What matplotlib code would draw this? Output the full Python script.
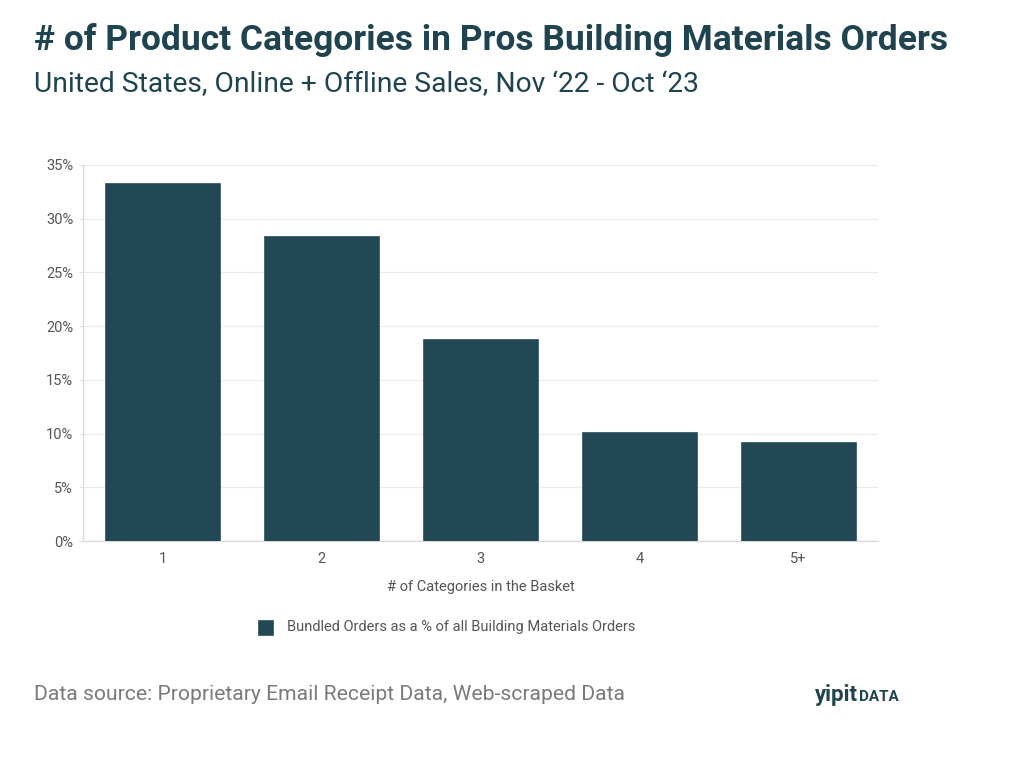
import matplotlib
matplotlib.use('Agg')
import matplotlib.pyplot as plt
from matplotlib.ticker import FuncFormatter
from matplotlib.patches import Rectangle

categories = ['1', '2', '3', '4', '5+']
bundled_pct = [33.3, 28.4, 18.8, 10.15, 9.2]

bar_color = '#224855'
title_color = '#1f4450'

plt.rcParams['font.family'] = ['Roboto', 'DejaVu Sans']

fig = plt.figure(figsize=(10.36, 7.66), dpi=100)
ax = fig.add_axes([0.0801, 0.2937, 0.7674, 0.4909])

ax.bar(range(len(categories)), bundled_pct, width=0.72, color=bar_color,
       edgecolor='#3a5d6a', linewidth=0.6, zorder=3)
ax.set_xlim(-0.5, len(categories) - 0.5)
ax.set_ylim(0, 35)
ax.set_yticks(range(0, 36, 5))
ax.yaxis.set_major_formatter(FuncFormatter(lambda v, p: f'{v:.0f}%'))
ax.set_xticks(range(len(categories)))
ax.set_xticklabels(categories)

ax.grid(axis='y', color='#ebebeb', linewidth=0.9, zorder=0)
for side in ['top', 'right']:
    ax.spines[side].set_visible(False)
for side in ['left', 'bottom']:
    ax.spines[side].set_color('#d9d9d9')
    ax.spines[side].set_linewidth(0.9)
ax.tick_params(axis='y', length=3, color='#e0e0e0', labelsize=10.5, labelcolor='#555555', pad=4)
ax.tick_params(axis='x', length=0, labelsize=10.5, labelcolor='#555555', pad=8)
ax.set_xlabel('# of Categories in the Basket', fontsize=10.5, color='#555555', labelpad=10)

# legend
fig.patches.append(Rectangle((258 / 1036, 1 - 635 / 766), 15 / 1036, 15 / 766,
                             transform=fig.transFigure, facecolor=bar_color,
                             edgecolor='#3a5d6a', linewidth=0.6))
fig.text(287 / 1036, 1 - 627 / 766, 'Bundled Orders as a % of all Building Materials Orders',
         fontsize=10.5, color='#555555', va='center', ha='left')

fig.text(34 / 1036, 1 - 40 / 766, '# of Product Categories in Pros Building Materials Orders',
         fontsize=25.5, fontweight='bold', color=title_color, va='center', ha='left')
fig.text(34 / 1036, 1 - 85 / 766, 'United States, Online + Offline Sales, Nov \u201822 - Oct \u201823',
         fontsize=20.3, color=title_color, va='center', ha='left')

fig.text(34 / 1036, 1 - 694 / 766, 'Data source: Proprietary Email Receipt Data, Web-scraped Data',
         fontsize=15.25, color='#7a7a7a', va='center', ha='left')
# logo
fig.text(815 / 1036, 1 - 701 / 766, 'yipit', fontsize=16, fontweight='bold',
         color=title_color, va='baseline', ha='left')
fig.text(859 / 1036, 1 - 701 / 766, 'DATA', fontsize=11, fontweight='bold',
         color=title_color, va='baseline', ha='left')

fig.savefig('out.png', dpi=100, facecolor='white')
